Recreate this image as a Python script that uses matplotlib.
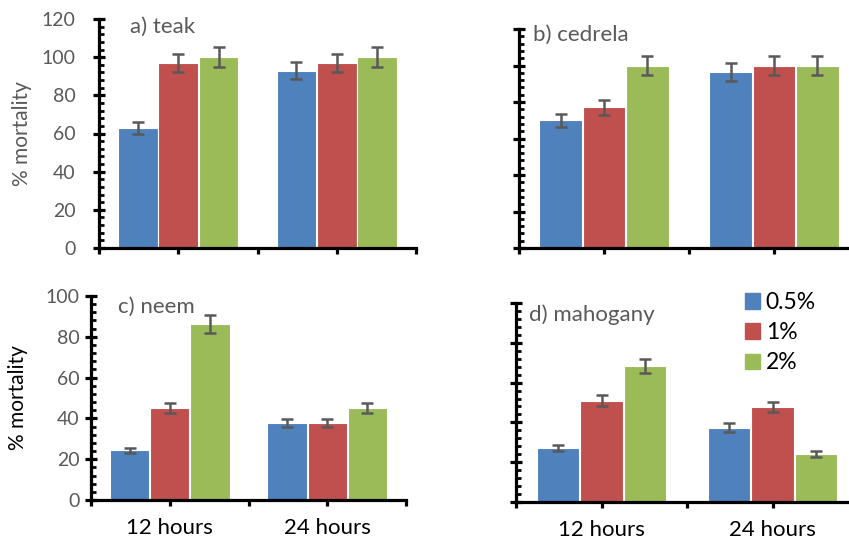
import matplotlib.pyplot as plt
import numpy as np

plt.rcParams['font.family'] = ['Lato', 'DejaVu Sans']

# Data
times = ['12 hours', '24 hours']
doses = ['0.5%', '1%', '2%']
colors = ['#4F81BD', '#C0504D', '#9BBB59']

teak = [[63, 93], [97, 97], [100, 100]]
teak_err = [[3.2, 4.7], [4.9, 4.9], [5.1, 5.1]]

cedrela = [[70, 96.6], [77, 100], [100, 100]]
cedrela_err = [[3.6, 4.9], [4, 5], [5.2, 5]]

neem = [[24.4, 37.9], [45.1, 37.9], [86.3, 45.1]]
neem_err = [[1.2, 2.0], [2.3, 2.0], [4.4, 2.3]]

mahogany = [[27.1, 37.4], [50.8, 47.8], [68.4, 24.1]]
mahogany_err = [[1.7, 2.2], [2.8, 2.6], [3.5, 1.3]]

fig = plt.figure(figsize=(8.49, 5.47), dpi=100)

# axes rectangles in figure fraction (from pixel measurements)
W, H = 849.0, 547.0
panels = [
    dict(px=(99, 416, 19, 248), ymax=120, vals=teak, err=teak_err, title='a) teak',
         tpos=(130, 27), ylab=True, ylabcol='#595959', ylabx=22, xl=False, ypad=13),
    dict(px=(519, 859, 29, 248), ymax=120, vals=cedrela, err=cedrela_err, title='b) cedrela',
         tpos=(533, 35), ylab=False, xl=False, ypad=4),
    dict(px=(91, 406, 296, 500), ymax=100, vals=neem, err=neem_err, title='c) neem',
         tpos=(118, 307), ylab=True, ylabcol='black', ylabx=18, xl=True, ypad=4),
    dict(px=(516, 858, 303, 502), ymax=100, vals=mahogany, err=mahogany_err, title='d) mahogany',
         tpos=(529, 315), ylab=False, xl=True, ypad=4),
]

width = 0.25
offsets = [-0.255, 0, 0.255]
x = np.array([0.5, 1.5])

for p in panels:
    l, r, t, b = p['px']
    ax = fig.add_axes([l / W, (H - b) / H, (r - l) / W, (b - t) / H])
    for i in range(3):
        ax.bar(x + offsets[i], p['vals'][i], width, color=colors[i],
               edgecolor='white', linewidth=0.8, label=doses[i], zorder=2)
        ax.errorbar(x + offsets[i], p['vals'][i], yerr=p['err'][i], fmt='none',
                    ecolor='#595959', elinewidth=1.8, capsize=4.5, capthick=1.8, zorder=3)

    ax.set_xlim(0, 2)
    ax.set_ylim(0, p['ymax'])
    ax.set_yticks(np.arange(0, p['ymax'] + 1, 20))
    ax.set_yticks(np.arange(0, p['ymax'] + 0.1, 4), minor=True)
    ax.set_xticks([0, 0.5, 1, 1.5, 2])

    for s in ['top', 'right']:
        ax.spines[s].set_visible(False)
    for s in ['left', 'bottom']:
        ax.spines[s].set_linewidth(2.3)
        ax.spines[s].set_zorder(4)

    ax.tick_params(axis='y', which='major', direction='inout', length=8, width=2.3,
                   labelsize=14, labelcolor='#595959', pad=p['ypad'])
    ax.tick_params(axis='y', which='minor', direction='in', length=3.5, width=2)
    ax.tick_params(axis='x', which='major', direction='out', length=4, width=2.3,
                   labelsize=16, pad=9)

    if not p['ylab']:
        ax.set_yticklabels([])
    else:
        fig.text(p['ylabx'] / W, 1 - ((t + b) / 2) / H, '% mortality', rotation=90,
                 ha='center', va='center', fontsize=15, color=p['ylabcol'])

    if p['xl']:
        ax.set_xticklabels(['', times[0], '', times[1], ''])
    else:
        ax.set_xticklabels([])

    fig.text(p['tpos'][0] / W, 1 - p['tpos'][1] / H, p['title'], ha='left', va='center',
             fontsize=16, color='#595959')

    ax.patch.set_alpha(0)

# legend in panel d
handles = [plt.Rectangle((0, 0), 1, 1, color=c) for c in colors]
fig.legend(handles, doses, loc='upper left', bbox_to_anchor=(745 / W, 1 - 292 / H),
           frameon=False, fontsize=16.5, handlelength=0.65, handleheight=0.65,
           handletextpad=0.25, labelspacing=0.4, borderaxespad=0, borderpad=0)

plt.savefig('out.png', dpi=100)
